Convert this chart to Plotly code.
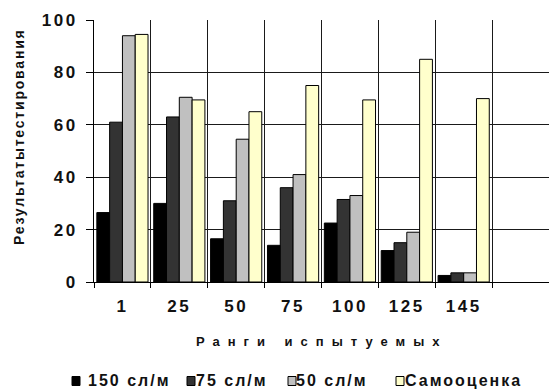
import plotly.graph_objects as go

# ---- data ----
ranks = ["1", "25", "50", "75", "100", "125", "145"]
axis_categories = ranks + ["\u00a0"]          # trailing empty rank slot
series_names = ["150 сл/м", "75 сл/м", "50 сл/м", "Самооценка"]
series_colors = ["#000000", "#333333", "#C0C0C0", "#FFFFCC"]
v150 = [26.5, 30, 16.5, 14, 22.5, 12, 2.5]
v75 = [61, 63, 31, 36, 31.5, 15, 3.5]
v50 = [94, 70.5, 54.5, 41, 33, 19, 3.5]
self_rating = [94.5, 69.5, 65, 75, 69.5, 85, 70]
y_ticks = [0, 20, 40, 60, 80, 100]

W, H = 549, 390
L, R, T, B = 94, 0, 20, 108
PW, PH = W - L - R, H - T - B

def px_x(px):
    return (px - L) / PW

def px_y(py):
    return (H - B - py) / PH

BOLD = dict(family="Liberation Sans, Arial, sans-serif", color="#111111")

def spaced(text, sp):
    return f'<span style="letter-spacing:{sp}px">{text}</span>'

fig = go.Figure()
for name, color, vals in zip(series_names, series_colors, [v150, v75, v50, self_rating]):
    fig.add_trace(go.Bar(
        x=ranks, y=vals, name=name,
        marker=dict(color=color, line=dict(color="#000000", width=1)),
        showlegend=False,
    ))

fig.update_layout(
    width=W, height=H,
    margin=dict(l=L, r=R, t=T, b=B, pad=0),
    paper_bgcolor="white", plot_bgcolor="white",
    barmode="group", bargap=0.1, bargroupgap=0,
    font=dict(family="Liberation Sans, Arial, sans-serif", color="#111111"),
)

fig.update_xaxes(
    type="category", categoryorder="array", categoryarray=axis_categories,
    range=[-0.5, len(axis_categories) - 0.5],
    tickmode="array", tickvals=axis_categories,
    ticktext=[spaced(c, 2.5) for c in axis_categories],
    tickson="boundaries", ticks="outside", ticklen=5, tickcolor="#000000",
    showgrid=True, gridcolor="#1a1a1a", gridwidth=1,
    showline=True, linecolor="#000000", linewidth=1,
    tickfont=dict(size=17, weight="bold", **BOLD),
    ticklabelstandoff=9,
)
fig.update_yaxes(
    range=[0, 100], tickmode="array", tickvals=y_ticks,
    ticktext=[spaced(str(v), 2.5) for v in y_ticks],
    ticks="outside", ticklen=7, tickcolor="#000000",
    showgrid=True, gridcolor="#1a1a1a", gridwidth=1,
    showline=True, linecolor="#000000", linewidth=1,
    tickfont=dict(size=17, weight="bold", **BOLD),
    ticklabelstandoff=5, zeroline=False,
)

# axis titles
fig.add_annotation(
    text=spaced("Ранги испытуемых", 8), xref="paper", yref="paper",
    x=px_x(322), y=px_y(341), xanchor="center", yanchor="middle",
    showarrow=False, font=dict(size=13, weight="bold", **BOLD),
)
fig.add_annotation(
    text=spaced("Результатытестирования", 1.8), xref="paper", yref="paper",
    x=px_x(19), y=px_y(137), xanchor="center", yanchor="middle", textangle=-90,
    showarrow=False, font=dict(size=14, weight="bold", **BOLD),
)

# legend row along the bottom edge
legend_square_x = [72, 187, 288, 396]
legend_text_x = [87, 195, 295, 404]
legend_y = 381
for name, color, sx, tx in zip(series_names, series_colors, legend_square_x, legend_text_x):
    fig.add_shape(
        type="rect", xref="paper", yref="paper",
        x0=px_x(sx), x1=px_x(sx + 8), y0=px_y(legend_y + 4.5), y1=px_y(legend_y - 4.5),
        fillcolor=color, line=dict(color="#000000", width=1),
    )
    fig.add_annotation(
        text=spaced(name, 2), xref="paper", yref="paper",
        x=px_x(tx), y=px_y(H - 0.5), xanchor="left", yanchor="bottom",
        borderpad=0,
        showarrow=False, font=dict(size=16, weight="bold", **BOLD),
    )

fig.write_html("out.html")
